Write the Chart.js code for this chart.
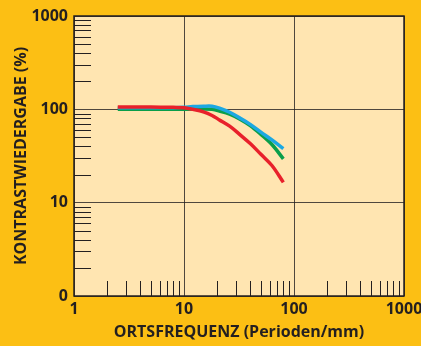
<!DOCTYPE html>
<html>
<head>
<meta charset="utf-8">
<script src="https://cdn.jsdelivr.net/npm/chart.js@4.4.1/dist/chart.umd.min.js"></script>
<style>
    html, body { margin: 0; padding: 0; background: #fcbf14; }
    #wrap { width: 421px; height: 346px; }
</style>
</head>
<body>
<div id="wrap"><canvas id="chart"></canvas></div>
<script>
// Spatial frequency (Perioden/mm)
var frequencies = [2.5, 5, 8, 10, 12, 15, 18, 21, 26, 32, 40, 50, 63, 80];

// Contrast transfer (%) per curve
var blueValues  = [104, 104, 104, 105, 107, 108, 108, 103, 93, 81, 69, 57, 47, 38];
var greenValues = [100, 100, 100, 100, 101, 101, 100, 96, 89, 79, 67, 54, 42, 29.5];
var redValues   = [106, 106, 105, 104, 100, 94, 86, 77, 66, 54, 43, 33, 25, 16.5];

// Axis ticks
var tickValues = [1, 2, 3, 4, 5, 6, 7, 8, 9, 10, 20, 30, 40, 50, 60, 70, 80, 90,
    100, 200, 300, 400, 500, 600, 700, 800, 900, 1000];
var majorValues = [1, 10, 100, 1000];
var xTickLabels = ['1', '10', '100', '1000'];
var yTickLabels = ['0', '10', '100', '1000'];

(function() {
    'use strict';

    var ink = '#231f20';
    var plotFill = '#ffe5b1';

    function points(values) {
        return frequencies.map(function(f, i) { return { x: f, y: values[i] }; });
    }

    function isMajor(value) {
        return majorValues.indexOf(value) >= 0;
    }

    function labelFor(labels) {
        return function(value) {
            var idx = majorValues.indexOf(value);
            return idx >= 0 ? labels[idx] : '';
        };
    }

    function setTicks(scale) {
        scale.ticks = tickValues.map(function(v) { return { value: v }; });
    }

    // Paints the plot area and draws the inner minor ticks and frame
    var decor = {
        id: 'decor',
        beforeDraw: function(chart) {
            var ctx = chart.ctx, a = chart.chartArea;
            ctx.save();
            ctx.fillStyle = plotFill;
            ctx.fillRect(a.left, a.top, a.right - a.left, a.bottom - a.top);
            ctx.restore();
        },
        afterDatasetsDraw: function(chart) {
            var ctx = chart.ctx, a = chart.chartArea;
            var xs = chart.scales.x, ys = chart.scales.y;
            ctx.save();
            ctx.strokeStyle = ink;
            ctx.lineWidth = 1;
            ctx.beginPath();
            tickValues.forEach(function(v) {
                if (isMajor(v)) return;
                var px = Math.round(xs.getPixelForValue(v)) + 0.5;
                ctx.moveTo(px, a.bottom);
                ctx.lineTo(px, a.bottom - 15);
                var py = Math.round(ys.getPixelForValue(v)) + 0.5;
                ctx.moveTo(a.left, py);
                ctx.lineTo(a.left + 17, py);
            });
            ctx.stroke();
            ctx.lineWidth = 1.5;
            ctx.strokeRect(a.left, a.top, a.right - a.left, a.bottom - a.top);
            ctx.restore();
        }
    };

    var tickFont = { family: '"Open Sans", sans-serif', size: 16, weight: 'bold' };
    var titleFont = { family: '"Open Sans", sans-serif', size: 16, weight: 'bold' };

    var gridOptions = {
        drawTicks: false,
        lineWidth: 1,
        color: function(c) {
            return c.tick && isMajor(c.tick.value) ? 'rgba(35,31,32,0.8)' : 'rgba(0,0,0,0)';
        }
    };

    new Chart(document.getElementById('chart'), {
        type: 'line',
        data: {
            datasets: [
                { data: points(redValues), borderColor: '#e8212b', order: 0 },
                { data: points(blueValues), borderColor: '#1ca8e2', order: 1 },
                { data: points(greenValues), borderColor: '#0a9e4a', order: 2 }
            ]
        },
        options: {
            responsive: true,
            maintainAspectRatio: false,
            animation: false,
            layout: { padding: { top: 16, right: 17, left: 0, bottom: 0 } },
            elements: {
                line: { borderWidth: 3.5, tension: 0.35 },
                point: { radius: 0 }
            },
            plugins: { legend: { display: false }, tooltip: { enabled: false } },
            scales: {
                x: {
                    type: 'logarithmic',
                    min: 1,
                    max: 1000,
                    border: { display: false },
                    grid: gridOptions,
                    afterBuildTicks: setTicks,
                    afterFit: function(scale) {
                        scale.height = 50;
                        scale.paddingLeft = 0;
                        scale.paddingRight = 0;
                    },
                    ticks: {
                        autoSkip: false,
                        maxRotation: 0,
                        padding: 4,
                        color: ink,
                        font: tickFont,
                        callback: labelFor(xTickLabels)
                    },
                    title: {
                        display: true,
                        text: 'ORTSFREQUENZ (Perioden/mm)',
                        color: ink,
                        font: titleFont,
                        padding: { top: 0, bottom: 4 }
                    }
                },
                y: {
                    type: 'logarithmic',
                    min: 1,
                    max: 1000,
                    border: { display: false },
                    grid: gridOptions,
                    afterBuildTicks: setTicks,
                    afterFit: function(scale) {
                        scale.width = 74;
                        scale.paddingTop = 0;
                        scale.paddingBottom = 0;
                    },
                    ticks: {
                        autoSkip: false,
                        padding: 6,
                        color: ink,
                        font: tickFont,
                        callback: labelFor(yTickLabels)
                    },
                    title: {
                        display: true,
                        text: 'KONTRASTWIEDERGABE (%)',
                        color: ink,
                        font: titleFont,
                        padding: { top: 12, bottom: 0 }
                    }
                }
            }
        },
        plugins: [decor]
    });
})();
</script>
</body>
</html>
